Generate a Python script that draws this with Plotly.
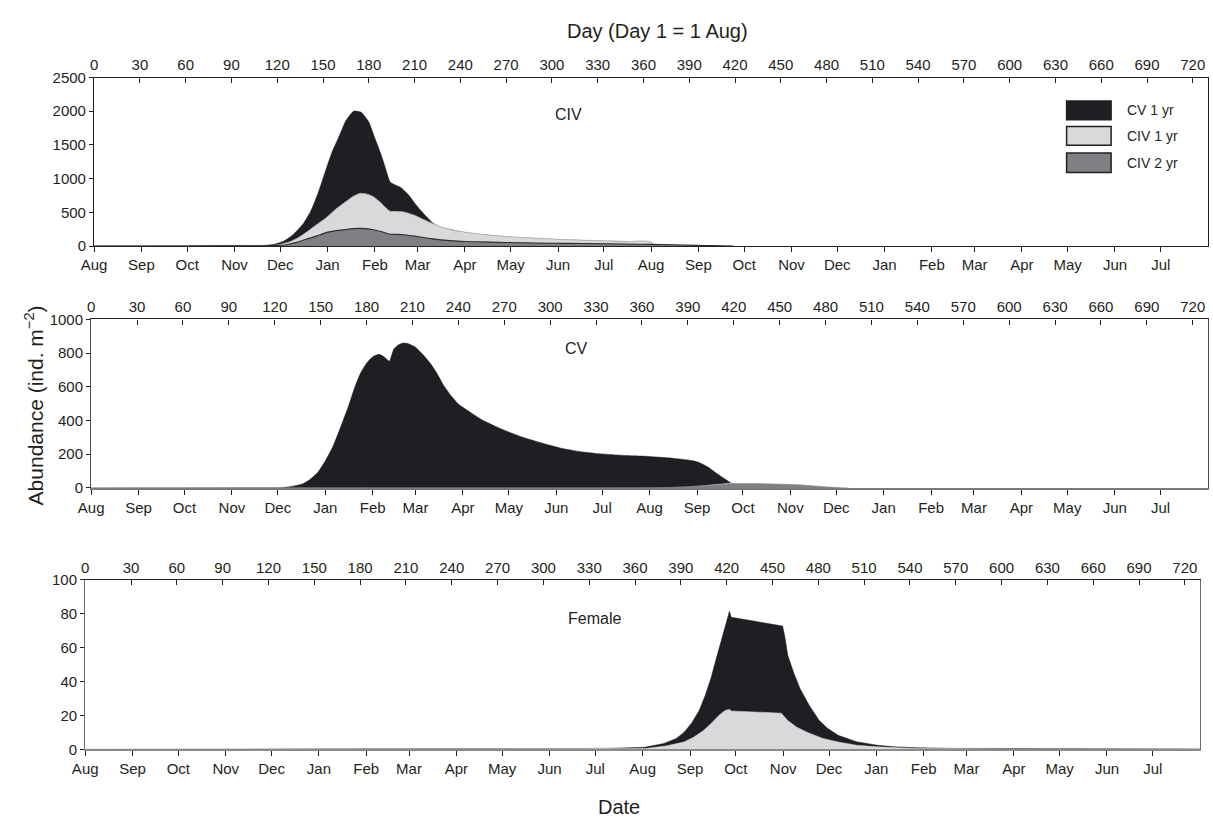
import plotly.graph_objects as go

W, H = 1213, 824

# ---------------- data (day 1 = 1 Aug) ----------------
# Panel 1: CIV
civ_cv1_days = [0, 60, 100, 111, 118, 124, 130, 137, 142, 147, 152, 156, 160, 165, 170, 175, 180, 184, 188, 191,
                194, 197, 201, 206, 210, 214, 218, 222, 226, 230, 236, 242, 254, 266, 280, 294, 306, 320, 335, 349, 365, 366]
civ_cv1_vals = [0, 2, 4, 8, 25, 70, 160, 330, 520, 800, 1140, 1400, 1600, 1860, 2000, 1985, 1840, 1600, 1360, 1150,
                950, 910, 870, 760, 640, 530, 430, 340, 290, 262, 232, 205, 170, 145, 123, 107, 94, 83, 73, 65, 60, 0]

civ_civ1_days = [0, 100, 115, 121, 128, 134, 140, 146, 152, 158, 165, 170, 174, 178, 183, 188, 191, 194, 198, 203,
                 208, 212, 216, 222, 229, 236, 242, 254, 266, 280, 294, 306, 320, 335, 349, 365, 366]
civ_civ1_vals = [0, 2, 8, 19, 60, 126, 220, 320, 417, 540, 659, 740, 780, 775, 732, 640, 570, 514, 514, 505,
                 470, 435, 392, 330, 271, 232, 208, 174, 148, 126, 110, 97, 86, 76, 68, 64, 0]

civ_civ2_days = [0, 60, 110, 120, 126, 132, 139, 146, 152, 158, 165, 170, 174, 178, 183, 188, 194, 198, 203, 209,
                 216, 222, 229, 236, 242, 260, 280, 300, 320, 349, 365, 380, 395, 405, 419]
civ_civ2_vals = [0, 1, 3, 10, 19, 50, 101, 150, 199, 225, 245, 258, 262, 258, 242, 215, 174, 172, 168, 150,
                 126, 106, 87, 76, 68, 58, 48, 42, 37, 29, 25, 18, 10, 5, 0]

# Panel 2: CV
cv_cv1_days = [0, 100, 120, 126, 132, 138, 143, 148, 153, 158, 163, 168, 172, 176, 180, 184, 188, 191, 193, 195,
               196.5, 198, 201, 204, 207, 212, 217, 222, 226, 230, 235, 240, 248, 256, 268, 281, 294, 307, 320, 332,
               350, 362, 375, 387, 393, 398, 403, 408, 413, 418, 420, 421]
cv_cv1_vals = [0, 0.5, 1, 3, 10, 23, 50, 91, 160, 246, 360, 480, 590, 680, 740, 778, 793, 781, 765, 752,
               790, 827, 850, 860, 857, 835, 790, 735, 680, 614, 550, 498, 448, 401, 350, 304, 268, 236, 215, 203,
               192, 188, 180, 169, 162, 148, 125, 91, 60, 30, 18, 0]

cv_civ1_days = [0, 380, 392, 402, 410, 416, 419, 421, 424]
cv_civ1_vals = [0, 0, 6, 14, 20, 27, 29, 24, 0]

cv_civ2_days = [0, 360, 375, 390, 400, 410, 420, 430, 440, 455, 465, 475, 483, 490, 495]
cv_civ2_vals = [0, 0, 2, 8, 13, 18, 26, 26, 25, 21, 17, 10, 5, 1, 0]

# Panel 3: Female
fem_cv1_days = [0, 300, 341, 366, 379, 387, 392, 397, 402, 406, 409.7, 413, 416, 419, 421, 421.8, 423, 430, 440,
                450, 456.6, 458, 460, 464, 468, 474, 480.6, 486, 493, 505, 518.6, 530, 544, 570, 600, 700, 730]
fem_cv1_vals = [0, 0.2, 0.6, 1.2, 3.5, 6.5, 10, 15.5, 23, 32, 42, 53, 63, 72, 78.6, 81.5, 78, 77, 75.5,
                74, 72.8, 67, 55.5, 45, 36, 26, 17, 12.5, 8.3, 4.5, 2.5, 1.5, 1, 0.6, 0.5, 0.3, 0.3]

fem_civ1_days = [0, 340, 366.6, 380, 392, 398, 404.6, 410, 414.8, 419, 421.8, 423, 440, 455.8, 460, 466, 473,
                 483, 493, 505, 518.6, 544, 600, 730]
fem_civ1_vals = [0, 0.2, 0.5, 2, 4.4, 7, 11, 15.5, 20, 23, 23.7, 22.7, 22, 21.4, 17, 13, 10,
                 6.5, 4.4, 2.5, 1.5, 0.5, 0.3, 0.2]

# Axis ticks
day_ticks = list(range(0, 721, 30))
month_ticks = [0, 31, 61, 92, 122, 153, 184, 212, 243, 273, 304, 334,
               365, 396, 426, 457, 487, 518, 549, 577, 608, 638, 669, 699]
month_labels = ["Aug", "Sep", "Oct", "Nov", "Dec", "Jan", "Feb", "Mar", "Apr", "May", "Jun", "Jul"] * 2

series_names = ["CV 1 yr", "CIV 1 yr", "CIV 2 yr"]

# ---------------- style ----------------
BLACK = "#1e1f22"
LIGHT = "#d8d9db"
DARK = "#808084"
INK = "#231f20"
FONT = "Liberation Sans, Arial, Helvetica, sans-serif"


def px(x):
    return x / W


def py(y):
    return 1 - y / H


# panel pixel boxes: (left, right, top, bottom)
panels = [
    (82, 1208, 70, 242),
    (79, 1208, 317, 489),
    (73, 1200, 583, 756),
]
y_ranges = [[0, 2500], [0, 1000], [0, 100]]
y_dticks = [500, 200, 20]
left_line_cols = [INK, "#4a4a4a", "#6a6a6a"]
bottom_line_cols = [INK, "#7a7a7a", "#8a8a8a"]
bottom_line_w = [1.3, 2, 2]

fig = go.Figure()

# (days, values, fill colour, line colour, line width, shape)
panel_data = [
    [(civ_cv1_days, civ_cv1_vals, BLACK, BLACK, 0.5, "spline"),
     (civ_civ1_days, civ_civ1_vals, LIGHT, "#b5b6b8", 0.8, "spline"),
     (civ_civ2_days, civ_civ2_vals, DARK, "#2e2e30", 1.1, "spline")],
    [(cv_cv1_days, cv_cv1_vals, BLACK, BLACK, 0.5, "spline"),
     (cv_civ1_days, cv_civ1_vals, LIGHT, LIGHT, 0.5, "linear"),
     (cv_civ2_days, cv_civ2_vals, DARK, DARK, 0.5, "spline")],
    [(fem_cv1_days, fem_cv1_vals, BLACK, BLACK, 0.5, "linear"),
     (fem_civ1_days, fem_civ1_vals, LIGHT, LIGHT, 0.5, "linear")],
]

for i, series in enumerate(panel_data):
    xa = "x" if i == 0 else f"x{i + 1}"
    ya = "y" if i == 0 else f"y{i + 1}"
    for j, (d, v, fc, lc, lw, shp) in enumerate(series):
        line = dict(color=lc, width=lw, shape=shp)
        if shp == "spline":
            line["smoothing"] = 0.5
        fig.add_trace(go.Scatter(
            x=d, y=v, mode="lines", fill="tozeroy", fillcolor=fc,
            line=line, name=series_names[j],
            showlegend=False, hoverinfo="skip", xaxis=xa, yaxis=ya))
    # invisible trace on the top (day) axis
    fig.add_trace(go.Scatter(x=[0, 730], y=[0, 0], mode="lines", line=dict(width=0),
                             opacity=0, showlegend=False, hoverinfo="skip",
                             xaxis=f"x{i + 4}", yaxis=ya))

layout = dict(
    width=W, height=H,
    margin=dict(l=0, r=0, t=0, b=0),
    paper_bgcolor="white", plot_bgcolor="white",
    font=dict(family=FONT, size=15, color=INK),
    showlegend=False,
)

for i, (l, r, t, b) in enumerate(panels):
    k = "" if i == 0 else str(i + 1)
    ya = "y" if i == 0 else f"y{i + 1}"
    xa = "x" if i == 0 else f"x{i + 1}"
    layout[f"xaxis{k}"] = dict(
        domain=[px(l), px(r)], anchor=ya, range=[0, 730],
        tickmode="array", tickvals=month_ticks, ticktext=month_labels,
        ticks="outside", ticklen=5, tickwidth=1, tickcolor=INK,
        showline=True, linecolor=bottom_line_cols[i], linewidth=bottom_line_w[i],
        showgrid=False, zeroline=False, tickfont=dict(size=15, color=INK),
    )
    layout[f"yaxis{k}"] = dict(
        domain=[py(b), py(t)], anchor=xa, range=y_ranges[i],
        tickmode="linear", tick0=0, dtick=y_dticks[i],
        ticks="outside", ticklen=4, tickwidth=1, tickcolor=INK,
        showline=True, linecolor=left_line_cols[i], linewidth=1.3, mirror=True,
        showgrid=False, zeroline=False, tickfont=dict(size=15, color=INK),
    )
    layout[f"xaxis{i + 4}"] = dict(
        overlaying=xa, side="top", anchor=ya, range=[0, 730],
        tickmode="array", tickvals=day_ticks,
        ticks="inside", ticklen=5, tickwidth=1, tickcolor=INK,
        showline=True, linecolor=INK, linewidth=1.3,
        showgrid=False, zeroline=False, tickfont=dict(size=15, color=INK),
    )

fig.update_layout(**layout)

annotations = [
    dict(text="Day (Day 1 = 1 Aug)", x=px(651), y=py(22), font=dict(size=20)),
    dict(text="Date", x=px(613), y=py(815), font=dict(size=20)),
    dict(text="Abundance (ind. m<sup>−2</sup>)", x=px(21), y=py(405), textangle=-90, font=dict(size=21)),
    dict(text="CIV", x=px(562), y=py(108), font=dict(size=16)),
    dict(text="CV", x=px(570), y=py(347), font=dict(size=16)),
    dict(text="Female", x=px(588), y=py(622), font=dict(size=16)),
]

# legend (panel 1)
leg_cols = [BLACK, LIGHT, DARK]
leg_y = [(94, 113), (120, 139), (147, 167)]
shapes = []
for name, col, (y0, y1) in zip(series_names, leg_cols, leg_y):
    shapes.append(dict(type="rect", xref="paper", yref="paper",
                       x0=px(1065), x1=px(1110), y0=py(y1), y1=py(y0),
                       fillcolor=col, line=dict(color=INK, width=1.5)))
    annotations.append(dict(text=name, x=px(1124), y=py((y0 + y1) / 2), xanchor="left",
                            font=dict(size=14)))

for a in annotations:
    a.setdefault("xref", "paper")
    a.setdefault("yref", "paper")
    a.setdefault("showarrow", False)
    a.setdefault("xanchor", "center")
    a.setdefault("yanchor", "middle")

fig.update_layout(annotations=annotations, shapes=shapes)

fig.write_html("out.html")
